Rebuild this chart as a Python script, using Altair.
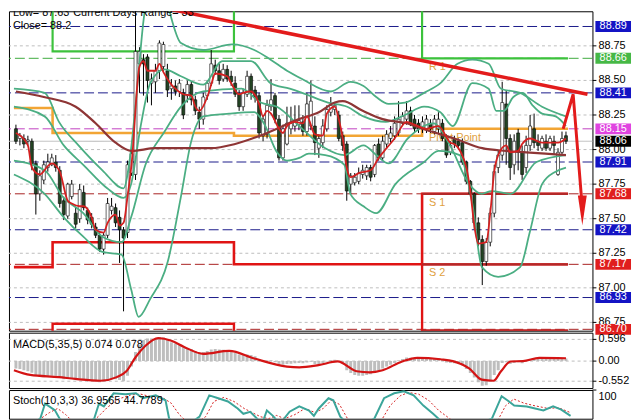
import altair as alt
import pandas as pd

# ---------------- candles (price) ----------------
opens = [
88.15, 88.08, 88.08, 88.06, 88.06, 87.90, 87.68, 87.78, 87.87, 87.89,
87.91, 87.85, 87.63, 87.52, 87.66, 87.54, 87.50, 87.69, 87.56, 87.51,
87.44, 87.38, 87.28, 87.38, 87.56, 87.58, 87.51, 87.42, 87.40, 87.83,
87.82, 88.62, 88.65, 88.67, 88.48, 88.49, 88.57, 88.60, 88.57, 88.44,
88.46, 88.42, 88.41, 88.39, 88.47, 88.36, 88.27, 88.22, 88.39, 88.48,
88.61, 88.57, 88.51, 88.58, 88.53, 88.48, 88.40, 88.31, 88.40, 88.53,
88.43, 88.39, 88.10, 88.11, 88.31, 88.39, 88.22, 87.94, 88.04, 88.15,
88.17, 88.18, 88.20, 88.13, 88.17, 88.17, 88.01, 88.05, 88.15, 88.27,
88.29, 88.25, 88.10, 88.04, 87.75, 87.76, 87.77, 87.82, 87.81, 87.87,
87.82, 88.04, 87.94, 88.04, 88.08, 88.10, 88.12, 88.19, 88.22, 88.28,
88.22, 88.19, 88.15, 88.15, 88.19, 88.13, 88.15, 88.19, 88.08, 87.98,
88.08, 88.06, 88.05, 87.91, 87.77, 87.68, 87.47, 87.35, 87.19, 87.33,
87.54, 87.87, 87.96, 88.33, 88.08, 87.89, 88.12, 87.98, 87.87, 88.03,
88.15, 88.06, 88.01, 88.06, 88.01, 88.06, 87.82, 87.98, 88.10]
closes = [
88.06, 88.10, 88.04, 88.07, 87.89, 87.68, 87.81, 87.89, 87.91, 87.94,
87.87, 87.61, 87.53, 87.75, 87.75, 87.46, 87.71, 87.58, 87.49, 87.46,
87.38, 87.28, 87.38, 87.61, 87.59, 87.47, 87.42, 87.36, 87.89, 87.97,
88.71, 88.71, 88.62, 88.50, 88.51, 88.57, 88.77, 88.76, 88.43, 88.46,
88.42, 88.48, 88.25, 88.47, 88.36, 88.28, 88.22, 88.38, 88.48, 88.62,
88.57, 88.50, 88.58, 88.51, 88.49, 88.40, 88.31, 88.41, 88.53, 88.41,
88.38, 88.12, 88.22, 88.32, 88.36, 88.22, 87.94, 88.15, 88.19, 88.19,
88.20, 88.21, 88.13, 88.33, 88.35, 88.05, 88.08, 88.17, 88.29, 88.32,
88.32, 88.08, 88.03, 87.70, 87.81, 87.80, 87.83, 87.85, 87.87, 87.80,
88.03, 87.94, 88.06, 88.11, 88.12, 88.19, 88.22, 88.24, 88.28, 88.18,
88.15, 88.15, 88.20, 88.22, 88.15, 88.22, 88.22, 88.08, 87.96, 88.03,
88.04, 88.03, 87.91, 87.77, 87.68, 87.47, 87.35, 87.19, 87.33, 87.54,
87.84, 87.96, 88.34, 88.08, 87.87, 88.06, 87.98, 87.82, 88.03, 88.17,
88.05, 88.03, 88.08, 88.01, 88.08, 88.03, 87.98, 88.08, 88.06]
highs = [
88.18, 88.12, 88.11, 88.10, 88.08, 87.92, 87.85, 87.92, 87.97, 87.97,
87.96, 87.88, 87.66, 87.76, 87.78, 87.58, 87.75, 87.74, 87.58, 87.54,
87.47, 87.40, 87.40, 87.65, 87.65, 87.61, 87.56, 87.44, 87.92, 88.03,
89.05, 88.74, 88.69, 88.69, 88.55, 88.62, 88.79, 88.78, 88.62, 88.51,
88.50, 88.51, 88.44, 88.50, 88.49, 88.39, 88.31, 88.41, 88.50, 88.72,
88.65, 88.62, 88.62, 88.61, 88.57, 88.53, 88.43, 88.44, 88.57, 88.55,
88.46, 88.41, 88.25, 88.36, 88.51, 88.41, 88.25, 88.18, 88.31, 88.31,
88.32, 88.32, 88.25, 88.41, 88.50, 88.24, 88.11, 88.22, 88.32, 88.38,
88.34, 88.28, 88.13, 88.06, 87.83, 87.83, 87.87, 87.89, 87.89, 87.89,
88.04, 88.08, 88.10, 88.14, 88.17, 88.24, 88.35, 88.27, 88.35, 88.31,
88.25, 88.22, 88.24, 88.25, 88.22, 88.25, 88.27, 88.22, 88.11, 88.06,
88.10, 88.08, 88.08, 87.92, 87.78, 87.69, 87.51, 87.38, 87.36, 87.58,
87.89, 87.99, 88.49, 88.43, 88.11, 88.11, 88.15, 88.03, 88.10, 88.25,
88.26, 88.11, 88.10, 88.11, 88.10, 88.10, 88.01, 88.13, 88.13]
lows = [
88.04, 88.03, 88.01, 88.03, 87.85, 87.53, 87.63, 87.75, 87.84, 87.88,
87.84, 87.58, 87.49, 87.50, 87.64, 87.43, 87.47, 87.56, 87.46, 87.43,
87.36, 87.26, 87.24, 87.36, 87.53, 87.44, 87.18, 86.83, 87.36, 87.81,
87.78, 88.41, 88.39, 88.34, 88.32, 88.41, 88.51, 88.57, 88.38, 88.36,
88.39, 88.38, 88.22, 88.34, 88.32, 88.25, 88.15, 88.18, 88.36, 88.46,
88.54, 88.47, 88.49, 88.49, 88.46, 88.38, 88.28, 88.28, 88.38, 88.36,
88.34, 88.08, 88.06, 88.08, 88.28, 88.19, 87.92, 87.92, 88.03, 88.11,
88.13, 88.14, 88.10, 88.10, 88.14, 87.96, 87.94, 88.01, 88.13, 88.24,
88.25, 88.06, 87.99, 87.63, 87.68, 87.74, 87.75, 87.79, 87.78, 87.77,
87.80, 87.92, 87.92, 88.01, 88.05, 88.07, 88.10, 88.17, 88.18, 88.17,
88.12, 88.12, 88.12, 88.12, 88.12, 88.11, 88.12, 88.06, 87.94, 87.96,
88.01, 88.00, 87.89, 87.75, 87.66, 87.42, 87.30, 87.02, 87.16, 87.30,
87.51, 87.83, 87.92, 87.89, 87.78, 87.82, 87.85, 87.78, 87.83, 87.99,
88.01, 87.99, 87.99, 87.99, 87.99, 87.96, 87.81, 87.96, 88.04]

# ---------------- moving averages (bar index, price) ----------------
fast_x = [0, 3, 4, 6, 8, 9, 11, 13, 14, 16, 17, 19, 20, 22, 23, 25, 26, 27, 28, 29,
          31, 32, 33, 35, 36, 37, 39, 40, 42, 44, 45, 46, 48, 49, 50, 53, 54, 56, 57, 59,
          61, 62, 63, 64, 66, 67, 68, 70, 72, 73, 75, 77, 78, 80, 81, 82, 83, 84, 86, 89,
          91, 93, 95, 98, 100, 103, 106, 109, 110, 113, 114, 115, 116, 118, 119, 120, 121,
          123, 124, 126, 127, 129, 132, 136, 138]
fast_y = [88.12, 88.03, 87.87, 87.82, 87.88, 87.90, 87.84, 87.63, 87.61, 87.59,
          87.59, 87.51, 87.42, 87.40, 87.47, 87.53, 87.45, 87.47, 87.66, 87.89,
          88.60, 88.64, 88.57, 88.57, 88.62, 88.56, 88.47, 88.44, 88.40, 88.39,
          88.31, 88.28, 88.38, 88.47, 88.55, 88.53, 88.48, 88.40, 88.41, 88.42,
          88.33, 88.24, 88.28, 88.26, 88.15, 88.12, 88.17, 88.20, 88.19, 88.24,
          88.11, 88.10, 88.26, 88.31, 88.22, 88.08, 87.87, 87.80, 87.83, 87.85,
          87.94, 88.01, 88.08, 88.20, 88.18, 88.15, 88.17, 88.05, 88.04, 87.87,
          87.70, 87.45, 87.32, 87.33, 87.54, 87.84, 87.96, 88.03, 87.98, 87.99,
          88.04, 88.08, 88.05, 88.05, 88.08]
slow_x = [0, 7, 15, 20, 25, 29, 35, 41, 49, 55, 63, 71, 76, 80, 82, 87, 92, 98, 102,
          110, 117, 123, 128, 138]
slow_y = [88.42, 88.38, 88.31, 88.19, 88.05, 87.99, 88.01, 88.01, 88.01, 88.04, 88.12,
          88.22, 88.27, 88.34, 88.35, 88.28, 88.22, 88.19, 88.15, 88.08, 88.01, 87.99,
          87.98, 87.96]

# ---------------- bands (bar index, price) ----------------
uo_x = [-0.5, 7.2, 10.8, 15.7, 21.7, 27.0, 28.7, 30.4, 32.0, 33.7, 36.9, 38.8, 41.4, 47.0,
        54.2, 59.8, 63.9, 68.0, 71.8, 79.0, 83.9, 87.2, 90.4, 93.5, 97.6, 102.4, 106.5,
        110.8, 114.5, 118.6, 121.7, 126.5, 132.0, 138.0]
uo_y = [88.44, 88.41, 88.20, 88.03, 87.85, 87.72, 87.96, 88.44, 88.93, 89.21, 89.21, 88.97,
        88.77, 88.72, 88.76, 88.72, 88.65, 88.57, 88.51, 88.42, 88.49, 88.46, 88.38, 88.33,
        88.34, 88.41, 88.48, 88.62, 88.65, 88.62, 88.44, 88.41, 88.31, 88.24]
ui_x = [-0.5, 7.2, 12.0, 16.9, 22.9, 27.0, 28.9, 31.3, 33.7, 37.3, 41.4, 47.0, 51.8, 59.0,
        63.9, 68.7, 71.8, 78.3, 83.1, 87.2, 92.8, 97.6, 102.4, 106.5, 109.6, 114.5, 118.6,
        120.5, 122.4, 124.8, 127.2, 129.6, 132.0, 135.4, 138.0]
ui_y = [88.31, 88.24, 88.03, 87.89, 87.72, 87.65, 87.75, 88.17, 88.48, 88.58, 88.53, 88.47,
        88.64, 88.64, 88.48, 88.44, 88.41, 88.34, 88.31, 88.24, 88.20, 88.25, 88.31, 88.27,
        88.17, 88.48, 88.44, 88.28, 88.28, 88.38, 88.41, 88.32, 88.26, 88.24, 88.17]
li_x = [-0.5, 7.2, 12.0, 16.9, 21.7, 26.5, 28.9, 32.5, 37.3, 41.4, 47.0, 56.6, 61.4, 65.5,
        71.1, 77.6, 82.4, 87.2, 90.4, 93.5, 98.3, 104.8, 108.9, 113.7, 116.9, 119.3, 124.1,
        130.6, 138.0]
li_y = [87.92, 87.85, 87.65, 87.54, 87.37, 87.33, 87.51, 87.89, 88.13, 88.31, 88.42, 88.44,
        88.34, 88.31, 88.17, 88.01, 87.96, 88.03, 87.96, 87.90, 88.08, 88.19, 88.03, 87.75,
        87.68, 87.70, 87.68, 87.91, 87.96]
lo_x = [-0.5, 7.2, 12.0, 16.9, 21.7, 26.5, 28.9, 30.8, 33.7, 38.1, 41.4, 43.9, 47.0, 53.5,
        59.8, 62.2, 65.5, 68.0, 71.1, 73.5, 77.6, 82.4, 83.9, 87.2, 90.4, 95.2, 102.4, 106.0,
        111.3, 114.5, 116.9, 121.0, 126.5, 128.9, 132.0, 135.4, 138.0]
lo_y = [87.82, 87.68, 87.51, 87.37, 87.26, 87.24, 86.99, 86.79, 86.92, 87.19, 87.66, 88.05,
        88.24, 88.26, 88.27, 88.19, 87.98, 87.92, 87.94, 87.97, 87.96, 87.89, 87.68, 87.59,
        87.54, 87.75, 87.91, 87.99, 87.96, 87.61, 87.15, 87.08, 87.15, 87.40, 87.75, 87.84,
        87.87]

# ---------------- levels, pivots, trend ----------------
price_ticks = [88.75, 88.50, 88.25, 88.00, 87.75, 87.50, 87.25, 87.00, 86.75]
price_tick_labels = ["88.75", "88.50", "88.25", "88.00", "87.75", "87.50", "87.25",
                     "87.00", "86.75"]
level_values = [88.89, 88.66, 88.41, 88.15, 88.06, 87.91, 87.68, 87.42, 87.17, 86.93, 86.70]
level_kinds = ["blue", "green", "blue", "magenta", "close", "blue", "red", "blue", "red",
               "blue", "red"]
day_starts = [-0.5, 9.2, 54.7, 101.9, 138.5]
pivot_r1 = [89.30, 88.71, 89.30, 88.66, 88.66]
pivot_pp = [88.30, 88.12, 88.10, 88.15, 88.15]
pivot_s1 = [87.15, 87.33, 87.17, 87.68, 87.68]
pivot_s2 = [86.50, 86.74, 86.50, 87.17, 87.17]
pivot_s3 = [86.50, 86.50, 86.50, 86.69, 86.69]
today_supports = [87.68, 87.17, 86.69]
pivot_labels = ["R 1", "Pivot Point", "S 1", "S 2"]
pivot_label_values = [88.66, 88.15, 87.68, 87.17]
trend_x = [36.0, 143.4]
trend_y = [89.03, 88.40]
arrow_x = [137.3, 139.8, 142.0]
arrow_y = [88.15, 88.40, 87.61]
arrowhead_x = [142.1]
arrowhead_y = [87.56]

# ---------------- MACD ----------------
macd_hist = [
-0.20, -0.22, -0.25, -0.28, -0.32, -0.38, -0.42, -0.44, -0.42, -0.40,
-0.40, -0.45, -0.50, -0.48, -0.47, -0.50, -0.48, -0.50, -0.52, -0.53,
-0.56, -0.58, -0.57, -0.52, -0.50, -0.50, -0.52, -0.55, -0.40, -0.15,
0.25, 0.45, 0.58, 0.62, 0.62, 0.63, 0.66, 0.65, 0.58, 0.52,
0.48, 0.44, 0.38, 0.36, 0.33, 0.28, 0.24, 0.25, 0.28, 0.32,
0.33, 0.32, 0.31, 0.30, 0.27, 0.22, 0.18, 0.17, 0.18, 0.17,
0.13, 0.05, 0.02, 0.02, 0.02, -0.03, -0.10, -0.10, -0.08, -0.07,
-0.06, -0.05, -0.06, -0.04, -0.02, -0.08, -0.09, -0.06, -0.01, 0.03,
0.04, -0.02, -0.08, -0.25, -0.33, -0.38, -0.40, -0.40, -0.38, -0.36,
-0.28, -0.25, -0.20, -0.15, -0.10, -0.05, 0.02, 0.06, 0.10, 0.09,
0.08, 0.08, 0.08, 0.08, 0.07, 0.08, 0.08, 0.04, -0.04, -0.05,
-0.06, -0.07, -0.12, -0.22, -0.33, -0.45, -0.58, -0.68, -0.66, -0.55,
-0.38, -0.25, -0.05, -0.03, -0.08, -0.05, -0.03, -0.06, 0.00, 0.05,
0.06, 0.06, 0.07, 0.07, 0.08, 0.08, 0.06, 0.08, 0.074]
sig_x = [-0.5, 3.6, 10.8, 14.9, 21.2, 25.3, 27.7, 30.1, 32.5, 35.7, 39.0, 42.2, 47.0, 53.5,
         59.8, 68.0, 71.1, 75.9, 80.7, 85.5, 88.7, 92.0, 96.9, 100.7, 106.5, 109.6, 113.7,
         116.9, 119.8, 121.7, 124.1, 127.2, 131.3, 138.0]
sig_y = [-0.25, -0.38, -0.44, -0.49, -0.54, -0.44, -0.28, 0.12, 0.42, 0.63, 0.56, 0.39, 0.20,
         0.28, 0.07, -0.15, -0.17, -0.11, -0.01, -0.28, -0.31, -0.25, -0.01, 0.09, 0.05, 0.00,
         -0.20, -0.51, -0.54, -0.28, -0.01, 0.00, 0.09, 0.078]
macd_ticks = [0.596, 0.0, -0.552]
macd_tick_labels = ["0.596", "0.00", "-0.552"]

# ---------------- Stochastic ----------------
stk_x = [-0.5, 3.6, 7.2, 8.4, 10.8, 12.0, 14.5, 16.9, 20.5, 21.7, 22.9, 25.3, 28.2, 30.8,
         32.5, 35.7, 38.1, 39.0, 42.2, 46.5, 48.9, 51.1, 53.5, 55.9, 57.3, 59.0, 60.7, 61.9,
         63.1, 64.6, 66.3, 68.7, 71.1, 73.5, 74.7, 75.9, 78.3, 79.5, 81.2, 84.3, 89.6, 92.0,
         94.5, 96.9, 99.3, 101.7, 104.1, 106.0, 112.0, 118.6, 121.0, 122.4, 124.1, 127.2,
         131.3, 133.7, 135.7, 138.0]
stk_y = [20, 10, 30, 67, 51, 30, 10, 5, 30, 67, 60, 92, 90, 92, 80, 87, 75, 30, 5, 35,
         87, 80, 72, 55, 42, 47, 30, 17, 50, 37, 17, 47, 60, 50, 37, 55, 80, 75, 35, 5,
         30, 80, 92, 97, 87, 62, 42, 25, 5, 30, 85, 75, 62, 60, 50, 60, 52, 36.96]
std_x = [-0.5, 5.0, 9.5, 11.5, 13.5, 16.0, 19.0, 22.0, 23.8, 26.5, 29.5, 32.0, 34.0, 37.0,
         39.5, 41.5, 44.5, 48.0, 50.0, 52.5, 55.0, 57.5, 59.5, 61.5, 63.5, 65.5, 67.5, 70.0,
         72.5, 75.0, 77.0, 79.0, 81.0, 83.0, 86.0, 91.0, 93.5, 96.0, 98.0, 100.5, 103.0,
         105.5, 108.5, 114.0, 120.0, 122.0, 124.0, 126.5, 129.0, 132.5, 135.0, 138.0]
std_y = [25, 15, 45, 55, 40, 15, 12, 40, 58, 78, 88, 90, 85, 84, 68, 40, 12, 35, 72, 82,
         72, 55, 45, 35, 30, 38, 30, 40, 55, 45, 55, 75, 65, 30, 10, 20, 62, 86, 94, 90,
         75, 50, 28, 8, 25, 62, 78, 68, 62, 55, 57, 44.78]
sto_ticks = [100]
sto_tick_labels = ["100"]

# ================= chart =================
FONT = "Liberation Sans"
W = 590
H_MAIN, H_MACD, H_STO = 323, 56, 29
GRID = "#BDBDBD"
xs = alt.Scale(domain=[-0.5, 143.4], nice=False, zero=False)
ys = alt.Scale(domain=[86.69, 89.0], nice=False, zero=False)
grid_x = [round(7.23 + 7.71 * k, 2) for k in range(18)]
x_axis = alt.Axis(values=grid_x, labels=False, ticks=False, domain=False, title=None,
                  grid=True, gridColor=GRID, gridDash=[3, 3])


def line_df(xv, yv):
    return pd.DataFrame({"x": xv, "y": yv})


def XQ(f):
    return alt.X(f, type="quantitative", scale=xs, axis=None)


def right_axis(ticks, labels, scale, baseline="middle", grid=True):
    """Hand-made right axis: grid, tick marks and labels."""
    df = pd.DataFrame({"v": ticks, "t": labels})
    y = alt.Y("v:Q", scale=scale, axis=None)
    out = []
    if grid:
        out.append(alt.Chart(df).mark_rule(color=GRID, strokeDash=[3, 3], strokeWidth=1)
                   .encode(y=y))
    out.append(alt.Chart(df).mark_rule(color="black", strokeWidth=1).encode(
        x=alt.value(W), x2=alt.value(W + 4), y=y))
    out.append(alt.Chart(df).mark_text(align="left", baseline=baseline, font=FONT,
                                       fontSize=11, color="black",
                                       dy=1 if baseline == "top" else 0)
               .encode(x=alt.value(W + 6), y=y, text="t:N"))
    return out


candles = pd.DataFrame({"i": list(range(len(closes))), "open": opens, "high": highs,
                        "low": lows, "close": closes})
candles["dir"] = ["up" if c >= o else "down" for o, c in zip(opens, closes)]


def YQ(f):
    return alt.Y(f, type="quantitative", scale=ys, axis=None)


# invisible, clipped carrier layer that owns the vertical grid
main_axes = alt.Chart(candles).mark_point(opacity=0, size=1, clip=True).encode(
    x=alt.X("i:Q", scale=xs, axis=x_axis), y=YQ("close"))

levels = pd.DataFrame({"v": level_values, "kind": level_kinds})
kind_dom = ["blue", "green", "magenta", "close", "red"]
level_rules = alt.Chart(levels).mark_rule(strokeWidth=1).encode(
    y=YQ("v"),
    color=alt.Color("kind:N", scale=alt.Scale(domain=kind_dom,
                    range=["#1A1A8A", "#3DAA3D", "#C040C0", "#B8B8B8", "#A82020"]), legend=None),
    strokeDash=alt.StrokeDash("kind:N", scale=alt.Scale(domain=kind_dom,
                              range=[[10, 4], [10, 4], [10, 4], [1, 0], [10, 4]]), legend=None),
)

layers = [main_axes] + right_axis(price_ticks, price_tick_labels, ys) + [level_rules]

for vals, col, sw in [(pivot_r1, "#3CC23C", 2.2), (pivot_pp, "#F2A534", 2.6),
                      (pivot_s1, "#E01414", 2.6), (pivot_s2, "#E01414", 2.4),
                      (pivot_s3, "#E01414", 2.4)]:
    layers.append(alt.Chart(line_df(day_starts, vals)).mark_line(
        interpolate="step-after", color=col, strokeWidth=sw, clip=True).encode(
        x=XQ("x"), y=YQ("y")))

# today's support lines are drawn in a darker, thinner red
sup = pd.DataFrame({"v": today_supports, "x0": [day_starts[3]] * 3,
                    "x1": [day_starts[4]] * 3})
layers.append(alt.Chart(sup).mark_rule(color="#B42828", strokeWidth=2.2, clip=True).encode(
    x=XQ("x0"), x2="x1", y=YQ("v")))

pl = pd.DataFrame({"x": [day_starts[3]] * 4, "y": pivot_label_values, "t": pivot_labels})
layers.append(alt.Chart(pl).mark_text(align="left", baseline="middle", dx=7, dy=9,
                                      color="#E0A040", font=FONT, fontSize=11).encode(
    x=XQ("x"), y=YQ("y"), text="t:N"))

layers.append(alt.Chart(candles).mark_rule(color="black", strokeWidth=1, clip=True).encode(
    x=XQ("i"), y=YQ("low"), y2="high"))
layers.append(alt.Chart(candles).mark_bar(size=3, stroke="black", strokeWidth=0.6,
                                          clip=True).encode(
    x=XQ("i"), y=YQ("open"), y2="close",
    fill=alt.Fill("dir:N", scale=alt.Scale(domain=["up", "down"], range=["white", "#234423"]),
                  legend=None)))

for bx, by in [(uo_x, uo_y), (ui_x, ui_y), (li_x, li_y), (lo_x, lo_y)]:
    layers.append(alt.Chart(line_df(bx, by)).mark_line(
        color="#4BAE83", strokeWidth=1.8, interpolate="monotone", clip=True).encode(
        x=XQ("x"), y=YQ("y")))

layers.append(alt.Chart(line_df(slow_x, slow_y)).mark_line(
    color="#8E3535", strokeWidth=2.2, interpolate="monotone", clip=True).encode(
    x=XQ("x"), y=YQ("y")))
layers.append(alt.Chart(line_df(fast_x, fast_y)).mark_line(
    color="#D42020", strokeWidth=1.8, interpolate="monotone", clip=True).encode(
    x=XQ("x"), y=YQ("y")))

layers.append(alt.Chart(line_df(trend_x, trend_y)).mark_line(
    color="#E31B1B", strokeWidth=3.5, clip=True).encode(x=XQ("x"), y=YQ("y")))
layers.append(alt.Chart(line_df(arrow_x, arrow_y)).mark_line(
    color="#E31B1B", strokeWidth=3).encode(x=XQ("x"), y=YQ("y")))
layers.append(alt.Chart(line_df(arrowhead_x, arrowhead_y)).mark_point(
    shape="M -0.3 -1 L 0.3 -1 L 0 1 Z", size=900, filled=True, color="#E31B1B",
    opacity=1).encode(x=XQ("x"), y=YQ("y")))

# price boxes on the right axis
layers.append(alt.Chart(levels).mark_tick(orient="horizontal", size=36, thickness=11,
                                          opacity=1, clip=False).encode(
    x=alt.value(W + 21), y=YQ("v"),
    color=alt.Color("kind:N", scale=alt.Scale(domain=kind_dom,
                    range=["#1414C4", "#46B846", "#E044E0", "#000000", "#E01E1E"]),
                    legend=None)))
layers.append(alt.Chart(levels).mark_text(color="white", font=FONT, fontSize=11,
                                          align="center", baseline="middle").encode(
    x=alt.value(W + 21), y=YQ("v"), text=alt.Text("v:Q", format=".2f")))

# info texts
info_text = ["Low= 87.63", "Current Days Range= 33", "Close= 88.2"]
info_px = [4, 65, 4]
info_py = [5, 5, 18]
for t, px, py in zip(info_text, info_px, info_py):
    layers.append(alt.Chart(pd.DataFrame({"t": [t]})).mark_text(
        align="left", baseline="alphabetic", font=FONT, fontSize=11, color="black",
        clip=True).encode(x=alt.value(px), y=alt.value(py), text="t:N"))

main = alt.layer(*layers).resolve_scale(color="independent", fill="independent",
                                        strokeDash="independent").properties(
    width=W, height=H_MAIN)

# ---------------- MACD panel ----------------
mys = alt.Scale(domain=[-0.74, 0.78], nice=False, zero=False)
macd_df = pd.DataFrame({"i": list(range(len(macd_hist))), "h": macd_hist})
macd_axes = alt.Chart(macd_df).mark_point(opacity=0, size=1, clip=True).encode(
    x=alt.X("i:Q", scale=xs, axis=x_axis), y=alt.Y("h:Q", scale=mys, axis=None))
macd_bars = alt.Chart(macd_df).mark_bar(size=3, color="#BEBEBE", clip=True).encode(
    x=XQ("i"), y=alt.Y("h:Q", scale=mys, axis=None), y2=alt.datum(0))
macd_sig = alt.Chart(line_df(sig_x, sig_y)).mark_line(
    color="#D41414", strokeWidth=2.2, interpolate="monotone", clip=True).encode(
    x=XQ("x"), y=alt.Y("y:Q", scale=mys, axis=None))
macd_txt = alt.Chart(pd.DataFrame({"t": ["MACD(5,35,5) 0.074 0.078"]})).mark_text(
    align="left", baseline="alphabetic", font=FONT, fontSize=11, color="black").encode(
    x=alt.value(4), y=alt.value(15), text="t:N")
macd = alt.layer(macd_axes, *right_axis(macd_ticks, macd_tick_labels, mys),
                 macd_bars, macd_sig, macd_txt).properties(width=W, height=H_MACD)

# ---------------- Stochastic panel ----------------
sys_ = alt.Scale(domain=[30, 100], nice=False, zero=False)
sto_axes = alt.Chart(line_df(stk_x, stk_y)).mark_point(opacity=0, size=1, clip=True).encode(
    x=alt.X("x:Q", scale=xs, axis=x_axis), y=alt.Y("y:Q", scale=sys_, axis=None))
sto_d = alt.Chart(line_df(std_x, std_y)).mark_line(
    color="#D42020", strokeWidth=1, strokeDash=[2, 2], clip=True).encode(
    x=XQ("x"), y=alt.Y("y:Q", scale=sys_, axis=None))
sto_k = alt.Chart(line_df(stk_x, stk_y)).mark_line(
    color="#3BA59A", strokeWidth=2, clip=True).encode(
    x=XQ("x"), y=alt.Y("y:Q", scale=sys_, axis=None))
sto_txt = alt.Chart(pd.DataFrame({"t": ["Stoch(10,3,3) 36.9565 44.7789"]})).mark_text(
    align="left", baseline="alphabetic", font=FONT, fontSize=11, color="black").encode(
    x=alt.value(4), y=alt.value(14), text="t:N")
sto = alt.layer(sto_axes, *right_axis(sto_ticks, sto_tick_labels, sys_, baseline="top",
                                      grid=False),
                sto_d, sto_k, sto_txt).properties(width=W, height=H_STO)

chart = alt.vconcat(main, macd, sto, spacing=2, bounds="flush").properties(
    padding=0
).configure_view(stroke="black", strokeWidth=1)

chart.save("out.html", embed_options={"renderer": "svg", "actions": False})
